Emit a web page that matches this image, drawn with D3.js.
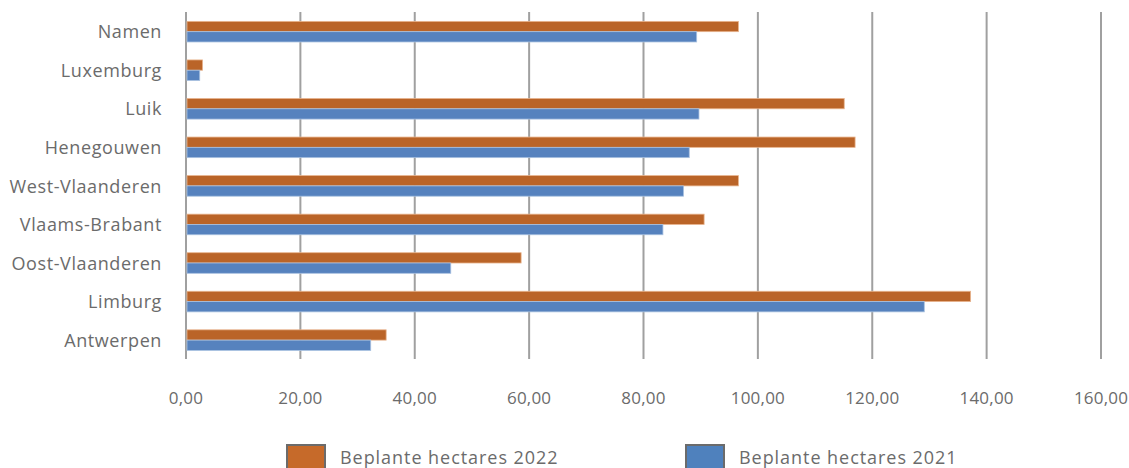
<!DOCTYPE html>
<html><head><meta charset="utf-8">
<script src="https://cdn.jsdelivr.net/npm/d3@7"></script>
<style>
html,body{margin:0;padding:0;background:#fff;}
text{font-family:"Open Sans","Noto Sans",sans-serif;fill:#6b6b6b;}
</style></head>
<body><svg id="chart" width="1129" height="468"></svg>
<script>
const categories = ["Namen","Luxemburg","Luik","Henegouwen","West-Vlaanderen","Vlaams-Brabant","Oost-Vlaanderen","Limburg","Antwerpen"];
const values2022 = [96.6, 2.9, 115.1, 117.0, 96.6, 90.6, 58.6, 137.2, 35.0];
const values2021 = [89.3, 2.4, 89.7, 88.0, 87.0, 83.4, 46.3, 129.1, 32.3];
const tickValues = [0,20,40,60,80,100,120,140,160];
const seriesNames = ["Beplante hectares 2022","Beplante hectares 2021"];
const colors = ["#BA6428","#5682BE"];
const legendColors = ["#C66A2A","#4F81BD"];

const svg = d3.select("#chart");
const x = d3.scaleLinear().domain([0,160]).range([186,1101]);
const y = d3.scaleBand().domain(categories).range([12,359]);
const sub = d3.scaleBand().domain([0,1]).range([0,20.6]);
const fmt = d => d3.format(".2f")(d).replace(".",",");

// gridlines
svg.append("g").selectAll("line").data(tickValues).join("line")
  .attr("x1",d=>x(d)).attr("x2",d=>x(d)).attr("y1",12).attr("y2",359)
  .attr("stroke","#a0a0a0").attr("stroke-width",2);

// bars
const series = [values2022, values2021];
series.forEach((vals,si)=>{
  svg.append("g").selectAll("rect").data(categories).join("rect")
    .attr("x",x(0)+1)
    .attr("y",(d)=>y(d)+y.bandwidth()/2-10.3+sub(si)+0.4)
    .attr("width",(d,i)=>Math.max(0,x(vals[i])-x(0)-1))
    .attr("height",sub.bandwidth())
    .attr("fill",colors[si])
    .attr("stroke", si===0 ? "#e8b48e" : "#a9c1e0")
    .attr("stroke-width",0.8);
});

// y labels
svg.append("g").selectAll("text").data(categories).join("text")
  .attr("x",162).attr("y",d=>y(d)+y.bandwidth()/2)
  .attr("text-anchor","end").attr("dominant-baseline","central")
  .attr("font-size",18).attr("letter-spacing",0.6).text(d=>d);

// x labels
svg.append("g").selectAll("text").data(tickValues).join("text")
  .attr("x",d=>x(d)).attr("y",397)
  .attr("text-anchor","middle").attr("dominant-baseline","central")
  .attr("font-size",17).attr("letter-spacing",0.2).text(d=>fmt(d));

// legend
const legX = [287,686];
seriesNames.forEach((n,i)=>{
  svg.append("rect").attr("x",legX[i]).attr("y",445).attr("width",38).attr("height",30)
    .attr("fill",legendColors[i]).attr("stroke","#6b6b6b").attr("stroke-width",2);
  svg.append("text").attr("x",legX[i]+53).attr("y",457)
    .attr("dominant-baseline","central").attr("font-size",18).attr("letter-spacing",0.95).text(n);
});
</script></body></html>
